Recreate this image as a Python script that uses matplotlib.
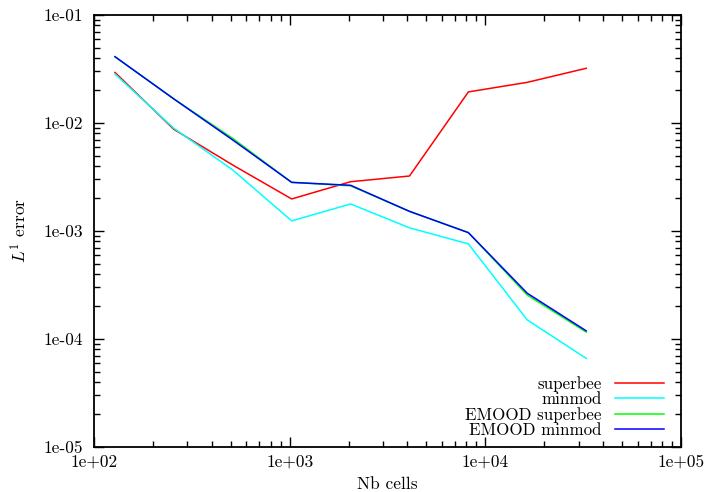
import matplotlib
matplotlib.use("Agg")
import matplotlib.pyplot as plt
from matplotlib.ticker import LogLocator, FixedLocator, FixedFormatter, NullFormatter

plt.rcParams['font.family'] = ['cmr10', 'DejaVu Serif']
plt.rcParams['mathtext.fontset'] = 'cm'
plt.rcParams['axes.unicode_minus'] = False

# Number of cells
nb_cells = [128, 256, 512, 1024, 2048, 4096, 8192, 16384, 32768]

# L1 errors per scheme
superbee = [0.0294, 0.00873, 0.00408, 0.00198, 0.00286, 0.00323, 0.0194, 0.0238, 0.0321]
minmod = [0.0284, 0.00893, 0.00367, 0.00124, 0.00178, 0.00107, 0.00076, 0.000150, 6.62e-5]
emood_superbee = [0.0411, 0.0167, 0.0072, 0.00282, 0.00262, 0.00152, 0.000966, 0.000255, 0.000116]
emood_minmod = [0.0411, 0.0167, 0.00696, 0.00282, 0.00265, 0.00152, 0.000966, 0.000265, 0.000119]

labels = ["superbee", "minmod", "EMOOD superbee", "EMOOD minmod"]
colors = ["#ff0000", "#00ffff", "#00ff00", "#0000ff"]

x_ticks = [1e2, 1e3, 1e4, 1e5]
x_tick_labels = ["1e+02", "1e+03", "1e+04", "1e+05"]
y_ticks = [1e-5, 1e-4, 1e-3, 1e-2, 1e-1]
y_tick_labels = ["1e-05", "1e-04", "1e-03", "1e-02", "1e-01"]

fig = plt.figure(figsize=(7.09, 4.92), dpi=100)
ax = fig.add_axes([94 / 709, 1 - 447 / 492, (681 - 94) / 709, (447 - 15) / 492])

series = [superbee, minmod, emood_superbee, emood_minmod]
for vals, lab, col in zip(series, labels, colors):
    ax.plot(nb_cells, vals, color=col, lw=1.1, label=lab)

ax.set_xscale('log')
ax.set_yscale('log')
ax.set_xlim(1e2, 1e5)
ax.set_ylim(1e-5, 1e-1)

ax.xaxis.set_major_locator(FixedLocator(x_ticks))
ax.xaxis.set_major_formatter(FixedFormatter(x_tick_labels))
ax.yaxis.set_major_locator(FixedLocator(y_ticks))
ax.yaxis.set_major_formatter(FixedFormatter(y_tick_labels))
ax.xaxis.set_minor_locator(LogLocator(base=10, subs=range(2, 10), numticks=20))
ax.yaxis.set_minor_locator(LogLocator(base=10, subs=range(2, 10), numticks=20))
ax.xaxis.set_minor_formatter(NullFormatter())
ax.yaxis.set_minor_formatter(NullFormatter())

ax.tick_params(which='both', direction='in', top=True, right=True, width=1.0, colors='black', labelsize=12.5)
ax.tick_params(which='major', length=7)
ax.tick_params(which='minor', length=4)
ax.tick_params(axis='x', which='major', pad=5)
ax.tick_params(axis='y', which='major', pad=8)
for sp in ax.spines.values():
    sp.set_linewidth(1.3)

ax.set_xlabel("Nb cells", fontsize=12.5)
ax.set_ylabel(r"$L^1$ error", fontsize=12.5)
ax.xaxis.set_label_coords(0.5, -0.068)
ax.yaxis.set_label_coords(-0.11, 0.5)

leg = ax.legend(loc='lower right', bbox_to_anchor=(0.982, 0.005), frameon=False,
                markerfirst=False, fontsize=12.2, handlelength=2.9,
                labelspacing=0.0, handletextpad=0.75, borderaxespad=0.0)
for t in leg.get_texts():
    t.set_ha('right')
leg._legend_box.align = "right"

fig.savefig("out.png", dpi=100)
